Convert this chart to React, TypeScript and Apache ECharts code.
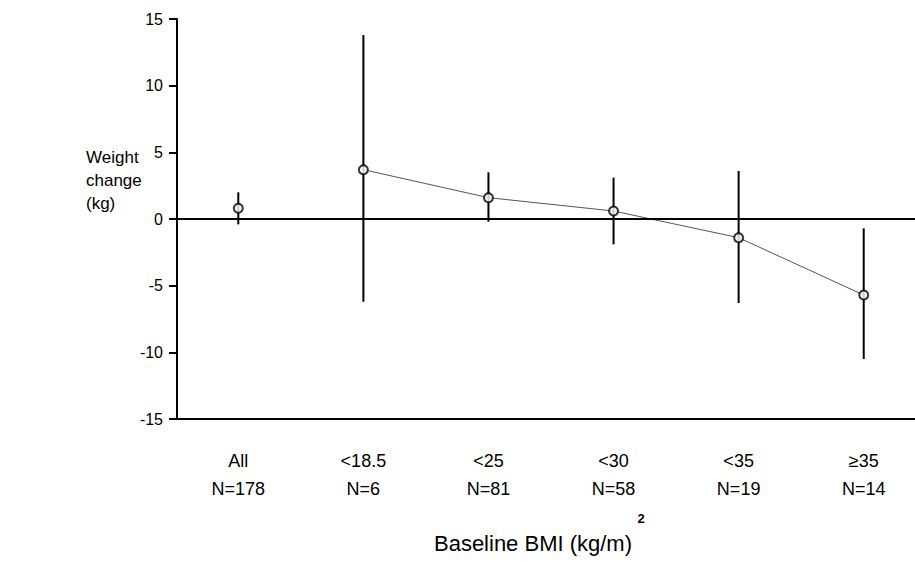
import React, { useEffect, useRef } from "react";
import * as echarts from "echarts";

const categories = ["All", "<18.5", "<25", "<30", "<35", "≥35"];
const sampleSizes = ["N=178", "N=6", "N=81", "N=58", "N=19", "N=14"];
const means = [0.8, 3.7, 1.6, 0.6, -1.4, -5.7];
const lowerCI = [-0.4, -6.2, -0.2, -1.9, -6.3, -10.5];
const upperCI = [2.0, 13.8, 3.5, 3.1, 3.6, -0.7];
const yMin = -15;
const yMax = 15;
const yStep = 5;
const yTitleLines = ["Weight", "change", "(kg)"];
const xTitle = "Baseline BMI (kg/m)";
const xTitleSup = "2";

const FONT = "'Liberation Sans', Arial, sans-serif";

export default function App() {
  const ref = useRef<HTMLDivElement>(null);
  useEffect(() => {
    if (!ref.current) return;
    const chart = echarts.init(ref.current, undefined, { renderer: "svg" });
    const idx = categories.map((_, i) => i);
    const errData = idx.map((i) => [i, lowerCI[i], upperCI[i]]);
    const pointData = idx.map((i) => [i, means[i]]);
    const lineData = idx.slice(1).map((i) => [i, means[i]]);

    chart.setOption({
      animation: false,
      backgroundColor: "#ffffff",
      textStyle: { fontFamily: FONT, color: "#000" },
      grid: { left: 177, top: 19, right: 0, height: 400 },
      xAxis: {
        type: "value",
        min: -0.49,
        max: 5.41,
        axisLine: { show: true, onZero: false, lineStyle: { color: "#000", width: 2 } },
        axisTick: { show: false },
        splitLine: { show: false },
        axisLabel: {
          customValues: idx,
          margin: 28,
          color: "#000",
          fontFamily: FONT,
          formatter: (v: number) => {
            const i = Math.round(v);
            return `{a|${categories[i]}}\n{b|${sampleSizes[i]}}`;
          },
          rich: {
            a: { fontSize: 18, lineHeight: 28, color: "#000", fontFamily: FONT },
            b: { fontSize: 18, lineHeight: 28, color: "#000", fontFamily: FONT },
          },
        },
      },
      yAxis: {
        type: "value",
        min: yMin,
        max: yMax,
        interval: yStep,
        axisLine: { show: true, onZero: false, lineStyle: { color: "#000", width: 2 } },
        axisTick: { show: true, length: 8, lineStyle: { color: "#000", width: 2 } },
        splitLine: { show: false },
        axisLabel: { color: "#000", fontSize: 16, margin: 14, fontFamily: FONT },
      },
      graphic: [
        {
          type: "text",
          left: 86,
          top: 146,
          style: {
            text: yTitleLines.join("\n"),
            fontSize: 17,
            lineHeight: 23,
            fill: "#000",
            fontFamily: FONT,
          },
        },
        {
          type: "text",
          x: 533,
          y: 543,
          style: {
            text: xTitle,
            fontSize: 22,
            fill: "#000",
            fontFamily: FONT,
            align: "center",
            verticalAlign: "middle",
          },
        },
        {
          type: "text",
          x: 641,
          y: 518,
          style: {
            text: xTitleSup,
            fontSize: 13,
            fontWeight: "bold",
            fill: "#000",
            fontFamily: FONT,
            align: "center",
            verticalAlign: "middle",
          },
        },
      ],
      series: [
        {
          type: "line",
          data: lineData,
          symbol: "none",
          lineStyle: { color: "#555", width: 1 },
          z: 2,
          markLine: {
            silent: true,
            symbol: "none",
            label: { show: false },
            lineStyle: { color: "#000", width: 2, type: "solid" },
            data: [{ yAxis: 0 }],
          },
        },
        {
          type: "custom",
          data: errData,
          z: 3,
          renderItem: (params: any, api: any) => {
            const x = api.value(0);
            const lo = api.coord([x, api.value(1)]);
            const hi = api.coord([x, api.value(2)]);
            return {
              type: "line",
              shape: { x1: lo[0], y1: lo[1], x2: hi[0], y2: hi[1] },
              style: { stroke: "#000", lineWidth: 2 },
            };
          },
        },
        {
          type: "scatter",
          data: pointData,
          symbol: "circle",
          symbolSize: 9,
          z: 4,
          itemStyle: { color: "#fff", borderColor: "#000", borderWidth: 2 },
        },
      ],
    });
    return () => chart.dispose();
  }, []);
  return (
    <div
      ref={ref}
      style={{ position: "absolute", left: 0, top: 0, width: 915, height: 572 }}
    />
  );
}
